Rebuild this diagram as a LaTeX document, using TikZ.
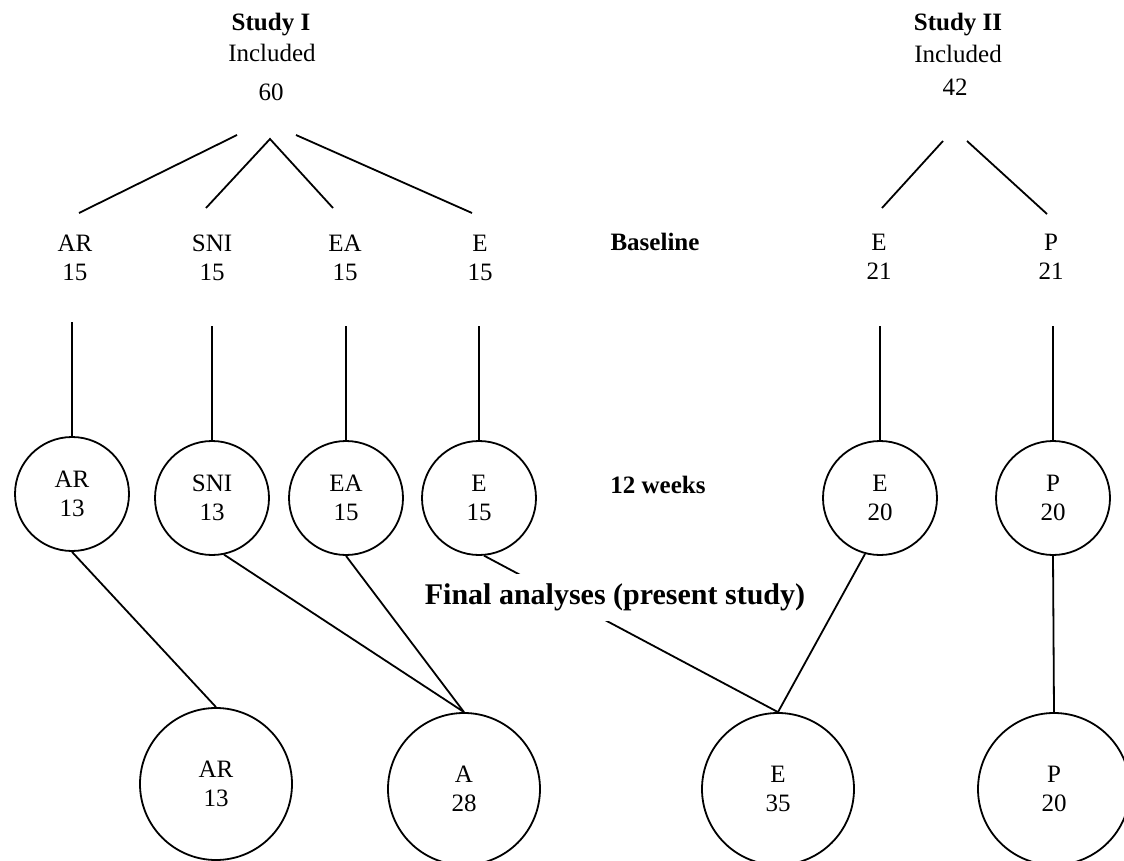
\documentclass[tikz,border=0pt]{standalone}
\usepackage{fontspec}
\setmainfont{Liberation Serif}
\begin{document}
\begin{tikzpicture}[x=0.5pt,y=-0.5pt,
  lbl/.style={inner sep=0pt,align=center,font=\fontsize{12.5}{14.5}\selectfont},
  bold/.style={inner sep=0pt,font=\fontsize{12.5}{14.5}\selectfont\bfseries},
  midc/.style={circle,draw,line width=0.9pt,minimum size=57pt,inner sep=0pt,align=center,font=\fontsize{12.5}{14.5}\selectfont},
  botc/.style={circle,draw,line width=0.9pt,minimum size=76pt,inner sep=0pt,align=center,font=\fontsize{12.5}{14.5}\selectfont},
  conn/.style={line width=0.9pt}]
\useasboundingbox (0,0) rectangle (1124,861);
\clip (0,0) rectangle (1124,861);

% Study I header
\node[bold] (s1t) at (271,25) {Study I};
\node[lbl] (s1i) at (272,53) {Included};
\node[lbl] (s1n) at (271,92) {60};
% Study II header
\node[bold] (s2t) at (958,25) {Study II};
\node[lbl] (s2i) at (958,54) {Included};
\node[lbl] (s2n) at (955,87) {42};

% Baseline labels
\node[lbl] (ar0) at (75,257.5) {AR\\15};
\node[lbl] (sni0) at (212,257.5) {SNI\\15};
\node[lbl] (ea0) at (345,257.5) {EA\\15};
\node[lbl] (e0) at (480,257.5) {E\\15};
\node[lbl] (ee0) at (879,257) {E\\21};
\node[lbl] (p0) at (1051,257) {P\\21};
\node[bold] (base) at (655,242) {Baseline};

% 12 weeks circles
\node[midc] (ar1) at (72,494) {AR\\13};
\node[midc] (sni1) at (212,498) {SNI\\13};
\node[midc] (ea1) at (346,498) {EA\\15};
\node[midc] (e1) at (479,498) {E\\15};
\node[midc] (ee1) at (880,498) {E\\20};
\node[midc] (p1) at (1053,498) {P\\20};
\node[bold] (wk) at (658,485) {12 weeks};

% final circles
\node[botc] (ar2) at (216,784) {AR\\13};
\node[botc] (a2) at (464,789) {A\\28};
\node[botc] (e3) at (778,789) {E\\35};
\node[botc] (p2) at (1054,789) {P\\20};

% free ends of the tree lines
\coordinate (t1a) at (237,135); \coordinate (b1a) at (79,213);
\coordinate (t1b) at (270,139); \coordinate (b1b) at (206,208);
\coordinate (b1c) at (333,208);
\coordinate (t1d) at (296,135); \coordinate (b1d) at (472,213);
\coordinate (t2a) at (943,141); \coordinate (b2a) at (882,208);
\coordinate (t2b) at (967,141); \coordinate (b2b) at (1047,214);
\draw[conn] (t1a) -- (b1a);
\draw[conn] (b1b) -- (t1b) -- (b1c);
\draw[conn] (t1d) -- (b1d);
\draw[conn] (t2a) -- (b2a);
\draw[conn] (t2b) -- (b2b);

% vertical lines
\coordinate (var) at (72,322);
\coordinate (vsni) at (212,326);
\coordinate (vea) at (346,326);
\coordinate (ve) at (479,326);
\coordinate (vee) at (880,326);
\coordinate (vp) at (1053,326);
\draw[conn] (var) -- (ar1.north);
\draw[conn] (vsni) -- (sni1.north);
\draw[conn] (vea) -- (ea1.north);
\draw[conn] (ve) -- (e1.north);
\draw[conn] (vee) -- (ee1.north);
\draw[conn] (vp) -- (p1.north);

% to final analyses
\draw[conn] (ar1.south) -- (ar2.north);
\draw[conn] (sni1.-78) -- (a2.north);
\draw[conn] (ea1.south) -- (a2.north);
\draw[conn] (e1.-85) -- (e3.north);
\draw[conn] (ee1.-105) -- (e3.north);
\draw[conn] (p1.south) -- (p2.north);

\node[fill=white,inner xsep=2pt,minimum height=23.5pt,font=\fontsize{15}{17}\selectfont\bfseries] (fin) at (615,597) {Final analyses (present study)};
\end{tikzpicture}
\end{document}
